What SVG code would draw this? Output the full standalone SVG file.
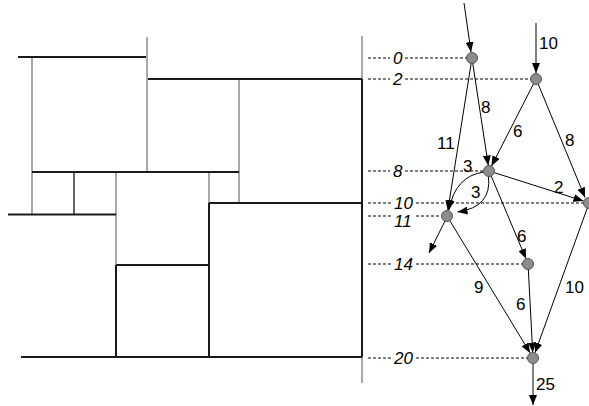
<svg xmlns="http://www.w3.org/2000/svg" width="589" height="406" viewBox="0 0 589 406">
<style>
.thick{stroke:#1a1a1a;stroke-width:2;fill:none}
.thin{stroke:#7a7a7a;stroke-width:1.3;fill:none}
.thinb{stroke:#000;stroke-width:1.2;fill:none}
.dash{stroke:#000;stroke-width:1;stroke-dasharray:3,2;fill:none}
.edge{stroke:#000;stroke-width:1;fill:none;marker-end:url(#arr)}
.node{fill:#8c8c8c;stroke:#555;stroke-width:1}
.lv{font-family:"Liberation Sans",Arial,sans-serif;font-size:17px;font-style:italic;fill:#000}
.lb{font-family:"Liberation Sans",Arial,sans-serif;font-size:17px;fill:#000}
</style>
<defs>
<marker id="arr" markerUnits="userSpaceOnUse" markerWidth="10" markerHeight="8" refX="10" refY="4" orient="auto">
<path d="M0,0 L10,4 L0,8 z" fill="#000"/>
</marker>
</defs>
<rect width="589" height="406" fill="#fff"/>
<g id="floorplan">
<line class="thin" x1="147" y1="37" x2="147" y2="172"/>
<line class="thin" x1="32" y1="57" x2="32" y2="214.5"/>
<line class="thinb" x1="74" y1="172" x2="74" y2="214.5"/>
<line class="thin" x1="116" y1="172" x2="116" y2="265"/>
<line class="thick" x1="116" y1="265" x2="116" y2="357"/>
<line class="thin" x1="209" y1="172" x2="209" y2="203"/>
<line class="thick" x1="209" y1="203" x2="209" y2="357"/>
<line class="thin" x1="239" y1="79" x2="239" y2="203"/>
<line class="thin" x1="362" y1="36" x2="362" y2="79"/>
<line class="thick" x1="362" y1="79" x2="362" y2="357"/>
<line class="thin" x1="362" y1="357" x2="362" y2="383"/>
<line class="thick" x1="18" y1="57" x2="146" y2="57"/>
<line class="thick" x1="148" y1="79" x2="362" y2="79"/>
<line class="thick" x1="32" y1="172" x2="239" y2="172"/>
<line class="thick" x1="209" y1="203" x2="362" y2="203"/>
<line class="thick" x1="8" y1="214.5" x2="116" y2="214.5"/>
<line class="thick" x1="116" y1="265" x2="209" y2="265"/>
<line class="thick" x1="21" y1="357" x2="362" y2="357"/>
</g>
<g id="levels">
<path class="dash" d="M368,58 H390 M405,58 H467"/>
<path class="dash" d="M368,79 H390 M405,79 H531"/>
<path class="dash" d="M368,171 H390 M405,171 H484"/>
<path class="dash" d="M368,203 H391 M416,203 H584"/>
<path class="dash" d="M368,216 H391 M416,216 H442"/>
<path class="dash" d="M368,264 H391 M416,264 H523"/>
<path class="dash" d="M368,358 H391 M416,358 H528"/>
<text class="lv" x="393" y="64">0</text>
<text class="lv" x="393" y="85">2</text>
<text class="lv" x="393" y="177">8</text>
<text class="lv" x="394" y="209">10</text>
<text class="lv" x="394" y="227">11</text>
<text class="lv" x="394" y="270">14</text>
<text class="lv" x="394" y="364">20</text>
</g>
<g id="connectors">
<line class="edge" x1="464" y1="3" x2="471" y2="52"/>
<line class="edge" x1="536" y1="23" x2="536" y2="73"/>
<line class="edge" x1="471.2" y1="63" x2="447.8" y2="210.5"/>
<line class="edge" x1="472.7" y1="63" x2="488.3" y2="165.5"/>
<line class="edge" x1="533.7" y1="83.5" x2="491.5" y2="166"/>
<line class="edge" x1="538" y1="83.6" x2="585" y2="197.5"/>
<line class="edge" x1="493.8" y1="172.5" x2="583.5" y2="201"/>
<line class="edge" x1="491" y1="175.6" x2="526" y2="258.8"/>
<path class="edge" d="M484,172 Q455,176 449,210"/>
<path class="edge" d="M488.5,176.5 Q492,207 457.5,212"/>
<line class="edge" x1="445" y1="221" x2="429" y2="253"/>
<line class="edge" x1="449.6" y1="220.3" x2="530.2" y2="353"/>
<line class="edge" x1="528.3" y1="269" x2="532.7" y2="352.5"/>
<line class="edge" x1="587.3" y1="208" x2="535" y2="352.8"/>
<line class="edge" x1="533" y1="363" x2="533" y2="405"/>
</g>
<g id="edge-labels">
<text class="lb" x="539" y="49">10</text>
<text class="lb" x="481" y="113">8</text>
<text class="lb" x="437" y="149">11</text>
<text class="lb" x="513" y="137">6</text>
<text class="lb" x="565" y="146">8</text>
<text class="lb" x="463" y="172">3</text>
<text class="lb" x="471" y="198">3</text>
<text class="lb" x="554" y="193">2</text>
<text class="lb" x="517" y="242">6</text>
<text class="lb" x="474" y="293">9</text>
<text class="lb" x="516" y="310">6</text>
<text class="lb" x="565" y="293">10</text>
<text class="lb" x="536" y="390">25</text>
</g>
<g id="n0"><circle class="node" cx="472" cy="58" r="5.5"/></g>
<g id="n2"><circle class="node" cx="536" cy="79" r="5.5"/></g>
<g id="n8"><circle class="node" cx="489" cy="171" r="5.5"/></g>
<g id="n10"><circle class="node" cx="589" cy="203" r="5.5"/></g>
<g id="n11"><circle class="node" cx="447" cy="216" r="5.5"/></g>
<g id="n14"><circle class="node" cx="528" cy="264" r="5.5"/></g>
<g id="n20"><circle class="node" cx="533" cy="358" r="5.5"/></g>
</svg>
